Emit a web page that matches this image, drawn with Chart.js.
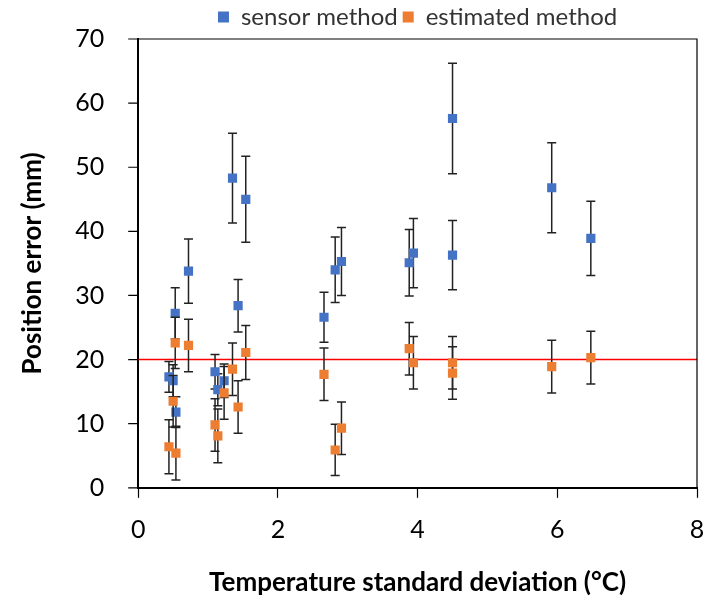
<!DOCTYPE html>
<html>
<head>
<meta charset="utf-8">
<script src="https://cdn.jsdelivr.net/npm/chart.js@4.4.0/dist/chart.umd.min.js"></script>
<style>
  body { margin: 0; background: #fff; }
  .chart-box { width: 706px; height: 599px; }
</style>
</head>
<body>
<div class="chart-box"><canvas id="chart"></canvas></div>
<script>
// x = temperature standard deviation (°C), y = position error (mm), err = half length of error bar
const sensorX = [0.44, 0.50, 0.53, 0.54, 0.72, 1.10, 1.14, 1.23, 1.35, 1.43, 1.54, 2.66, 2.82, 2.91, 3.88, 3.94, 4.50, 4.50, 5.92, 6.48];
const sensorY = [17.3, 16.7, 27.2, 11.8, 33.8, 18.1, 15.3, 16.7, 48.3, 28.4, 45.0, 26.6, 34.0, 35.3, 35.1, 36.6, 57.6, 36.3, 46.8, 38.9];
const sensorErr = [2.4, 2.5, 4.0, 2.4, 5.0, 2.7, 2.5, 2.6, 7.0, 4.1, 6.7, 3.9, 5.1, 5.3, 5.2, 5.4, 8.6, 5.4, 7.0, 5.8];

const estimatedX = [0.44, 0.50, 0.53, 0.54, 0.72, 1.10, 1.14, 1.23, 1.35, 1.43, 1.54, 2.66, 2.82, 2.91, 3.88, 3.94, 4.50, 4.50, 5.92, 6.48];
const estimatedY = [6.4, 13.5, 22.6, 5.4, 22.2, 9.8, 8.1, 14.8, 18.5, 12.6, 21.1, 17.7, 5.9, 9.3, 21.7, 19.5, 19.5, 17.9, 18.9, 20.3];
const estimatedErr = [4.2, 4.0, 4.0, 4.2, 4.1, 4.1, 4.2, 4.1, 4.1, 4.1, 4.2, 4.1, 4.0, 4.1, 4.1, 4.1, 4.1, 4.1, 4.1, 4.1];

// red reference line at 20 mm
const limitX = [0, 8];
const limitY = [20, 20];

function toPoints(xs, ys) {
  return xs.map((x, i) => ({ x: x, y: ys[i] }));
}

// error bars: drawn just before each dataset's markers
const errorBars = {
  id: 'errorBars',
  beforeDatasetDraw(chart, args) {
    const ds = chart.data.datasets[args.index];
    if (!ds.errors) return;
    const ctx = chart.ctx;
    const yScale = chart.scales.y;
    const meta = args.meta;
    ctx.save();
    ctx.strokeStyle = '#222';
    ctx.lineWidth = 1.5;
    meta.data.forEach((pt, i) => {
      const v = ds.data[i].y;
      const top = yScale.getPixelForValue(v + ds.errors[i]);
      const bottom = yScale.getPixelForValue(v - ds.errors[i]);
      ctx.beginPath();
      ctx.moveTo(pt.x, top);
      ctx.lineTo(pt.x, bottom);
      ctx.moveTo(pt.x - 4.5, top);
      ctx.lineTo(pt.x + 4.5, top);
      ctx.moveTo(pt.x - 4.5, bottom);
      ctx.lineTo(pt.x + 4.5, bottom);
      ctx.stroke();
    });
    ctx.restore();
  }
};

// thin frame on top and right side of the plot area, plus short y tick marks
// (the y grid ticks are transparent so they only reserve space for the labels)
const frame = {
  id: 'frame',
  afterDraw(chart) {
    const a = chart.chartArea;
    const ctx = chart.ctx;
    ctx.save();
    ctx.strokeStyle = '#000';
    ctx.lineWidth = 1.2;
    ctx.beginPath();
    ctx.moveTo(a.left, a.top);
    ctx.lineTo(a.right, a.top);
    ctx.lineTo(a.right, a.bottom);
    chart.scales.y.ticks.forEach((t) => {
      const py = chart.scales.y.getPixelForValue(t.value);
      ctx.moveTo(a.left - 10, py);
      ctx.lineTo(a.left, py);
    });
    ctx.stroke();
    ctx.restore();
  }
};

new Chart(document.getElementById('chart'), {
  type: 'scatter',
  data: {
    datasets: [
      {
        label: 'sensor method',
        data: toPoints(sensorX, sensorY),
        errors: sensorErr,
        backgroundColor: '#4472C4',
        borderColor: '#4472C4',
        pointStyle: 'rect',
        pointRadius: 6.5,
        borderWidth: 0,
        order: 2
      },
      {
        label: 'estimated method',
        data: toPoints(estimatedX, estimatedY),
        errors: estimatedErr,
        backgroundColor: '#ED7D31',
        borderColor: '#ED7D31',
        pointStyle: 'rect',
        pointRadius: 6.5,
        borderWidth: 0,
        order: 1
      },
      {
        label: 'limit',
        type: 'line',
        data: toPoints(limitX, limitY),
        borderColor: '#FF0000',
        borderWidth: 1.5,
        pointRadius: 0,
        order: 3
      }
    ]
  },
  options: {
    responsive: true,
    maintainAspectRatio: false,
    animation: false,
    layout: { padding: { top: 0, right: 9, left: 0, bottom: 0 } },
    plugins: {
      tooltip: { enabled: false },
      legend: {
        position: 'top',
        fullSize: false,
        labels: {
          filter: (item) => item.text !== 'limit',
          sort: (a, b) => a.datasetIndex - b.datasetIndex,
          boxWidth: 11,
          boxHeight: 11,
          padding: 5,
          color: '#333',
          font: { family: 'Lato', size: 24 }
        }
      }
    },
    scales: {
      x: {
        type: 'linear',
        min: 0,
        max: 8,
        ticks: { stepSize: 2, padding: 17, color: '#000', font: { family: 'Lato', size: 25 } },
        grid: { drawOnChartArea: false, tickLength: 10, color: '#000', tickWidth: 1.2 },
        border: { color: '#000', width: 2 },
        // the tick padding would otherwise be added as extra space on the right
        afterFit: (scale) => { scale.paddingRight = 0; },
        title: {
          display: true,
          text: 'Temperature standard deviation (°C)',
          color: '#000',
          padding: { top: 5, bottom: 1 },
          font: { family: 'Lato', size: 26, weight: 'bold' }
        }
      },
      y: {
        min: 0,
        max: 70,
        ticks: { stepSize: 10, padding: 0, color: '#000', font: { family: 'Lato', size: 25 } },
        grid: { drawOnChartArea: false, tickLength: 34, tickColor: 'transparent' },
        border: { color: '#000', width: 2 },
        title: {
          display: true,
          text: 'Position error (mm)',
          color: '#000',
          padding: { top: 17, bottom: 27 },
          font: { family: 'Lato', size: 26, weight: 'bold' }
        }
      }
    }
  },
  plugins: [errorBars, frame]
});
</script>
</body>
</html>
